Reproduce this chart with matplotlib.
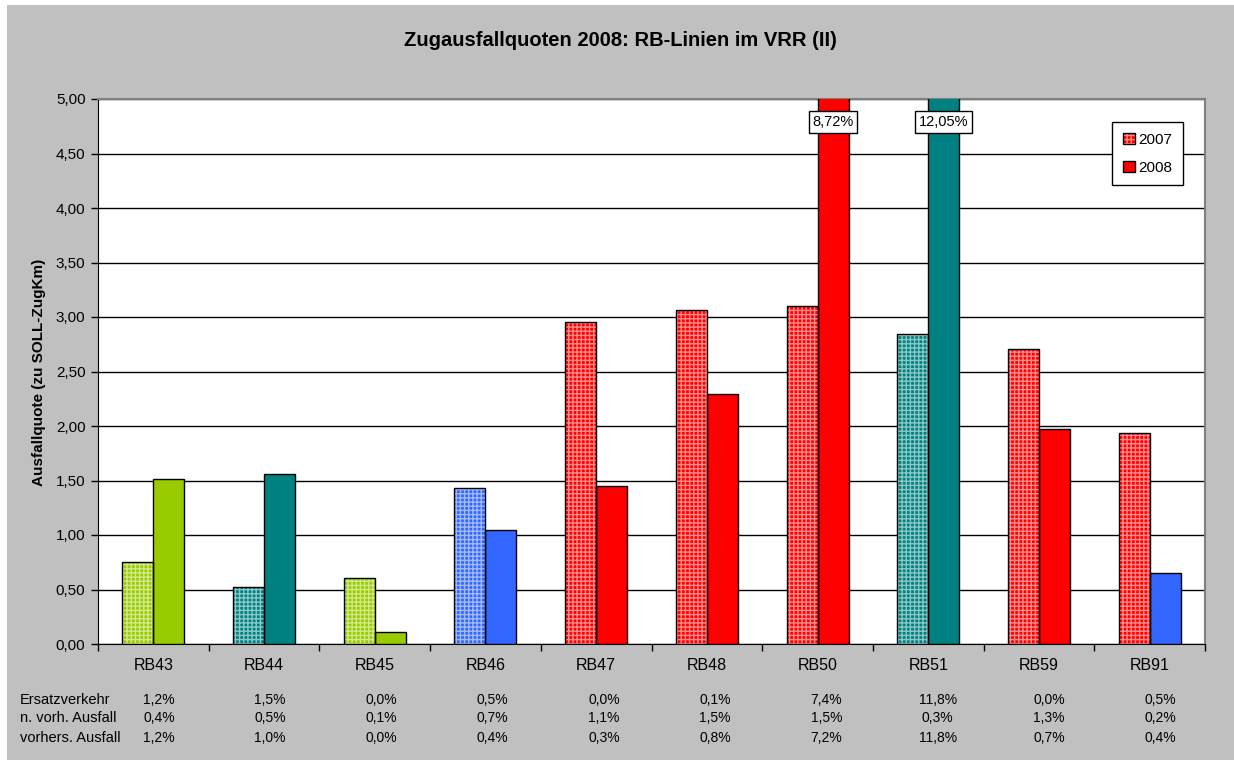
import numpy as np
import matplotlib
matplotlib.use("Agg")
import matplotlib.pyplot as plt
import matplotlib.colors as mcolors
from matplotlib.patches import Patch, Rectangle
from matplotlib.ticker import MultipleLocator, FuncFormatter
from matplotlib.transforms import ScaledTranslation

plt.rcParams['font.family'] = ['Liberation Sans', 'DejaVu Sans']
plt.rcParams['hatch.linewidth'] = 1.0

# Data
lines = ["RB43", "RB44", "RB45", "RB46", "RB47", "RB48", "RB50", "RB51", "RB59", "RB91"]
q2007 = [0.75, 0.52, 0.61, 1.43, 2.95, 3.06, 3.10, 2.84, 2.71, 1.94]
q2008 = [1.51, 1.56, 0.11, 1.05, 1.45, 2.29, 8.72, 12.05, 1.97, 0.65]
line_colors = ["#99CC00", "#008080", "#99CC00", "#3366FF", "#FF0000",
               "#FF0000", "#FF0000", "#008080", "#FF0000", "#3366FF"]
line_colors_2007 = ["#99CC00", "#008080", "#99CC00", "#3366FF", "#FF0000",
                    "#FF0000", "#FF0000", "#008080", "#FF0000", "#FF0000"]
row_labels = ["Ersatzverkehr", "n. vorh. Ausfall", "vorhers. Ausfall"]
ersatz = ["1,2%", "1,5%", "0,0%", "0,5%", "0,0%", "0,1%", "7,4%", "11,8%", "0,0%", "0,5%"]
n_vorh = ["0,4%", "0,5%", "0,1%", "0,7%", "1,1%", "1,5%", "1,5%", "0,3%", "1,3%", "0,2%"]
vorhers = ["1,2%", "1,0%", "0,0%", "0,4%", "0,3%", "0,8%", "7,2%", "11,8%", "0,7%", "0,4%"]


def tint(c, f=0.55):
    r, g, b = mcolors.to_rgb(c)
    return (r + (1 - r) * f, g + (1 - g) * f, b + (1 - b) * f)


W, H = 1234, 760
fig = plt.figure(figsize=(W / 100, H / 100), dpi=100)
fig.patch.set_facecolor("white")
fig.patches.append(Rectangle((7 / W, 0), 1, 1 - 5 / H, transform=fig.transFigure,
                             facecolor="#C0C0C0", edgecolor="none", zorder=-10))

ax = fig.add_axes([98 / W, (H - 644) / H, (1205 - 98) / W, (644 - 99) / H])
ax.set_facecolor("white")

x = np.arange(len(lines))
bw = 0.28
ymax = 5.0

# 2007 patterned bars
ax.bar(x - bw / 2, q2007, bw, color=line_colors_2007,
       edgecolor=[tint(c) for c in line_colors_2007],
       hatch="++++", linewidth=0, zorder=3)
ax.bar(x - bw / 2, q2007, bw, fill=False, edgecolor="black", linewidth=1, zorder=4)
# 2008 solid bars
ax.bar(x + bw / 2, q2008, bw, color=line_colors, edgecolor="black", linewidth=1, zorder=3)

# labels for bars above the axis range
for i, v in enumerate(q2008):
    if v > ymax:
        ax.text(x[i] + bw / 2, 4.79, ("%.2f%%" % v).replace(".", ","),
                ha="center", va="center", fontsize=10.5, zorder=6,
                bbox=dict(boxstyle="square,pad=0.25", facecolor="white",
                          edgecolor="black", linewidth=1))

ax.set_xlim(-0.5, len(lines) - 0.5)
ax.set_ylim(0, ymax)
ax.yaxis.set_major_locator(MultipleLocator(0.5))
ax.yaxis.set_major_formatter(FuncFormatter(lambda v, p: ("%.2f" % v).replace(".", ",")))
ax.grid(axis="y", color="black", linewidth=1, zorder=1)
ax.set_axisbelow(True)

ax.set_xticks(np.arange(len(lines) + 1) - 0.5)
ax.set_xticklabels([])
ax.set_xticks(x, minor=True)
ax.set_xticklabels(lines, minor=True, fontsize=11.5)
ax.tick_params(axis="x", which="minor", length=0, pad=10)
ax.tick_params(axis="x", which="major", length=5, width=1, direction="out")
ax.tick_params(axis="y", length=5, width=1, direction="out", labelsize=11, pad=4)

for s in ["top", "right"]:
    ax.spines[s].set_color("#808080")
    ax.spines[s].set_linewidth(1.5)
ax.spines["left"].set_color("black")
ax.spines["bottom"].set_color("black")

fig.text(39 / W, 1 - 372 / H, "Ausfallquote (zu SOLL-ZugKm)", rotation=90,
         ha="center", va="center", fontsize=11, fontweight="bold")

# legend
h2007 = (Patch(facecolor="#FF0000", edgecolor=tint("#FF0000"), hatch="++++", linewidth=0),
         Patch(fill=False, edgecolor="black", linewidth=1))
h2008 = Patch(facecolor="#FF0000", edgecolor="black", linewidth=1)
leg = fig.legend([h2007, h2008], ["2007", "2008"], loc="upper left",
                 bbox_to_anchor=(1112 / W, 1 - 122 / H), borderaxespad=0,
                 fontsize=11, fancybox=False, framealpha=1, edgecolor="black",
                 handlelength=0.8, handleheight=0.8, handletextpad=0.25,
                 borderpad=0.7, labelspacing=0.9)
leg.get_frame().set_linewidth(1)

# title
fig.text(620 / W, 1 - 40 / H, "Zugausfallquoten 2008: RB-Linien im VRR (II)",
         ha="center", va="center", fontsize=14.5, fontweight="bold")

# data table under the axis
rows = [ersatz, n_vorh, vorhers]
row_y = [700, 718, 738]
for lab, vals, yy in zip(row_labels, rows, row_y):
    fig.text(20 / W, 1 - yy / H, lab, ha="left", va="center", fontsize=10.5)
    for i, s in enumerate(vals):
        ax.text(x[i] + 0.05 + 0.005 * i, 0, s, ha="center", va="center", fontsize=10,
                transform=ax.get_xaxis_transform() +
                ScaledTranslation(0, -(yy - 644) / 100, fig.dpi_scale_trans))

fig.savefig("out.png", dpi=100, facecolor=fig.get_facecolor())
